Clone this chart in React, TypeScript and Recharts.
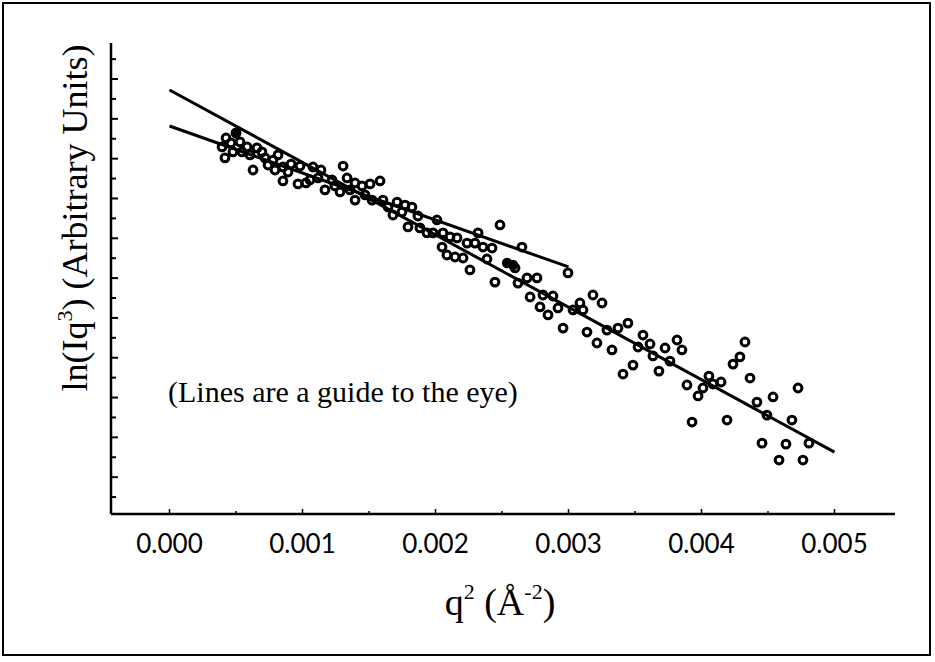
import React from 'react';
import { ScatterChart, Scatter, XAxis, YAxis, ReferenceLine } from 'recharts';

// q^2 values are in units of 1e-3 Å^-2, ln(Iq^3) in arbitrary units (one tick = 1)
const points: [number, number][] = [
  [0.395, 17.59], [0.425, 18.04], [0.5, 18.29], [0.417, 17.04], [0.477, 17.34], [0.545, 17.34],
  [0.605, 17.19], [0.658, 17.54], [0.628, 16.43], [0.718, 17.04], [0.778, 16.93], [0.816, 17.19],
  [0.793, 16.43], [0.853, 16.58], [0.853, 15.88], [0.914, 16.73], [0.981, 16.63], [0.966, 15.73],
  [1.026, 15.78], [1.056, 15.93], [1.079, 16.58], [1.139, 16.43], [1.169, 15.43], [1.222, 15.93],
  [1.282, 15.33], [1.305, 16.63], [1.335, 16.03], [1.395, 15.78], [1.447, 15.63], [1.508, 15.73],
  [1.583, 15.88], [1.395, 14.92], [1.523, 14.92], [1.605, 14.92], [1.711, 14.82], [1.771, 14.67],
  [1.823, 14.57], [1.68, 14.17], [1.748, 14.32], [1.793, 13.57], [1.868, 14.12], [1.936, 13.27],
  [1.981, 13.27], [2.011, 13.92], [2.056, 13.27], [2.109, 13.07], [2.162, 13.02], [2.049, 12.56],
  [2.086, 12.16], [2.147, 12.06], [2.207, 12.01], [2.237, 12.76], [2.259, 11.41], [2.32, 13.27],
  [2.297, 12.76], [2.357, 12.56], [2.425, 12.51], [2.387, 11.96], [2.485, 13.67], [2.65, 12.56],
  [2.598, 11.51], [2.62, 10.75], [2.688, 11.01], [2.763, 11.01], [2.447, 10.8], [2.711, 10.05],
  [2.808, 10.15], [2.883, 10.1], [2.786, 9.55], [2.846, 9.15], [2.921, 9.5], [2.996, 11.26],
  [2.959, 8.49], [3.034, 9.4], [3.086, 9.75], [3.109, 9.4], [3.184, 10.15], [3.252, 9.75],
  [3.139, 8.29], [3.214, 7.74], [3.289, 8.39], [3.372, 8.49], [3.447, 8.74], [3.327, 7.39],
  [3.56, 8.14], [3.523, 7.54], [3.613, 7.69], [3.635, 7.09], [3.726, 7.49], [3.816, 7.89],
  [3.853, 7.39], [3.763, 6.83], [3.485, 6.63], [3.41, 6.18], [3.68, 6.33], [3.891, 5.63],
  [4.056, 6.08], [4.086, 5.68], [4.147, 5.78], [4.011, 5.48], [3.974, 5.08], [3.929, 3.77],
  [4.192, 3.87], [4.327, 7.79], [4.289, 7.04], [4.237, 6.68], [4.365, 5.98], [4.417, 4.77],
  [4.538, 5.03], [4.492, 4.12], [4.68, 3.87], [4.726, 5.48], [4.455, 2.71], [4.635, 2.66],
  [4.808, 2.71], [4.583, 1.86], [4.763, 1.86],
  // crowded low-q region
  [0.462, 17.79], [0.53, 17.84], [0.583, 17.59], [0.695, 17.34], [0.741, 16.68], [0.891, 16.33],
  [1.117, 16.03], [1.244, 15.63], [1.357, 15.43], [1.47, 15.18], [1.643, 14.57], [1.883, 13.52],
];

// overlapping markers that print as a solid blob
const blobPoints: [number, number][] = [[2.538, 11.76], [2.583, 11.66], [0.5, 18.29]];

const longGuide: [number, number][] = [[0, 20.45], [5, 2.26]];
const shortGuide: [number, number][] = [[0, 18.64], [3, 11.56]];

const xMajor = [0, 0.001, 0.002, 0.003, 0.004, 0.005];
const xMinor = [0.0005, 0.0015, 0.0025, 0.0035, 0.0045];
const xTickLabels = ['0.000', '0.001', '0.002', '0.003', '0.004', '0.005'];
const yTicks = Array.from({ length: 23 }, (_, i) => i);

const toXY = (arr: [number, number][]) => arr.map(([q, l]) => ({ x: q / 1000, y: l }));
const seg = (arr: [number, number][]) => toXY(arr) as any;

const XTick = (props: any) => {
  const { x, y, payload } = props;
  const i = xMajor.indexOf(payload.value);
  const major = i >= 0;
  return (
    <g>
      <line x1={x} x2={x} y1={y} y2={y - (major ? 5 : 3)} stroke="#000" strokeWidth={1.5} />
      {major && (
        <text x={x} y={y + 39} textAnchor="middle" fontFamily="Lato" fontSize={26} fill="#000">
          {xTickLabels[i]}
        </text>
      )}
    </g>
  );
};

const YTick = (props: any) => {
  const { x, y, payload } = props;
  return <line x1={x} x2={x + (payload.value % 2 ? 7 : 5)} y1={y} y2={y} stroke="#000" strokeWidth={2} />;
};

const Ring = (props: any) => (
  <circle cx={props.cx} cy={props.cy} r={3.9} fill="none" stroke="#000" strokeWidth={3} />
);
const Dot = (props: any) => <circle cx={props.cx} cy={props.cy} r={5.2} fill="#000" />;

export default function App() {
  return (
    <div style={{ position: 'absolute', left: 0, top: 0, width: 935, height: 662, background: '#fff' }}>
      <ScatterChart width={935} height={662} margin={{ top: 43, right: 40, bottom: 147, left: 110 }}>
        <XAxis
          type="number"
          dataKey="x"
          domain={[-0.00044, 0.005455]}
          allowDataOverflow
          ticks={[...xMajor, ...xMinor]}
          interval={0}
          tickSize={0}
          tickMargin={0}
          tickLine={false}
          tick={<XTick />}
          axisLine={{ stroke: '#000', strokeWidth: 2.5 }}
          height={1}
        />
        <YAxis
          type="number"
          dataKey="y"
          domain={[-0.85, 22.81]}
          allowDataOverflow
          ticks={yTicks}
          interval={0}
          tickSize={0}
          tickMargin={0}
          tickLine={false}
          tick={<YTick />}
          axisLine={{ stroke: '#000', strokeWidth: 2.5 }}
          width={1}
        />
        <ReferenceLine segment={seg(longGuide)} stroke="#000" strokeWidth={3} ifOverflow="visible" />
        <ReferenceLine segment={seg(shortGuide)} stroke="#000" strokeWidth={3} ifOverflow="visible" />
        <Scatter data={toXY(points)} shape={<Ring />} isAnimationActive={false} />
        <Scatter data={toXY(blobPoints)} shape={<Dot />} isAnimationActive={false} />
      </ScatterChart>
      <svg width={935} height={662} style={{ position: 'absolute', left: 0, top: 0, pointerEvents: 'none' }}>
        <rect x={3} y={3} width={927} height={652} fill="none" stroke="#000" strokeWidth={2} />
        <text x={168} y={402} fontFamily="Liberation Serif" fontSize={30} fill="#000">
          (Lines are a guide to the eye)
        </text>
        <text x={500} y={615} textAnchor="middle" fontFamily="Liberation Serif" fontSize={38} fill="#000">
          q<tspan fontSize={22} dy={-16}>2</tspan>
          <tspan dy={16}> (Å</tspan>
          <tspan fontSize={22} dy={-16}>-2</tspan>
          <tspan dy={16}>)</tspan>
        </text>
        <text
          transform="translate(87,218) rotate(-90)"
          x={0}
          y={0}
          textAnchor="middle"
          fontFamily="Liberation Serif"
          fontSize={36}
          fill="#000"
        >
          ln(Iq<tspan fontSize={22} dy={-15}>3</tspan>
          <tspan dy={15}>) (Arbitrary Units)</tspan>
        </text>
      </svg>
    </div>
  );
}
